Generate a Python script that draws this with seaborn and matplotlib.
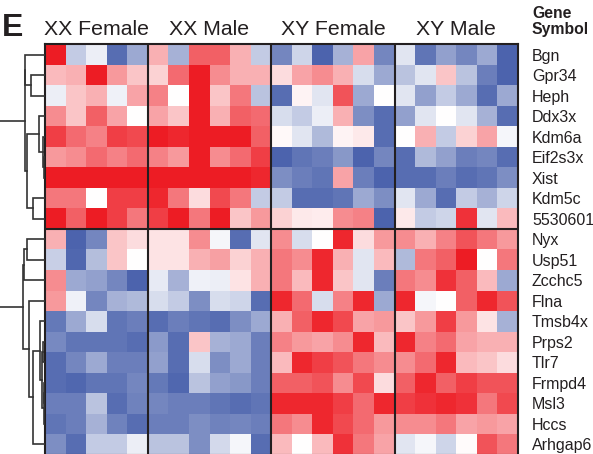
import matplotlib
matplotlib.use("Agg")
import matplotlib.pyplot as plt
from matplotlib.colors import LinearSegmentedColormap
import seaborn as sns
import numpy as np
import pandas as pd

genes = ["Bgn", "Gpr34", "Heph", "Ddx3x", "Kdm6a", "Eif2s3x", "Xist", "Kdm5c",
         "5530601", "Nyx", "Usp51", "Zcchc5", "Flna", "Tmsb4x", "Prps2", "Tlr7",
         "Frmpd4", "Msl3", "Hccs", "Arhgap6"]
groups = ["XX Female", "XX Male", "XY Female", "XY Male"]

xx_female = [
    [1.0, -0.3, -0.1, -0.85, -0.5],
    [0.3, 0.35, 1.0, 0.45, 0.25],
    [-0.1, 0.25, 0.35, -0.08, 0.4],
    [0.5, 0.25, 0.7, 0.4, 0.0],
    [0.85, 0.65, 0.55, 0.85, 0.8],
    [0.45, 0.5, 0.65, 0.55, 0.65],
    [1.0, 1.0, 1.0, 1.0, 1.0],
    [0.6, 0.6, 0.0, 0.85, 0.85],
    [1.0, 0.7, 1.0, 0.85, 0.6],
    [0.35, -0.9, -0.7, 0.25, 0.15],
    [-0.28, -0.88, -0.38, 0.25, 0.0],
    [0.5, -0.5, -0.55, -0.7, -0.9],
    [0.45, -0.08, -0.7, -0.45, -0.4],
    [-0.78, -0.5, -0.2, -0.8, -0.75],
    [-0.68, -0.8, -0.8, -0.8, -0.85],
    [-0.85, -0.7, -0.5, -0.75, -0.75],
    [-0.85, -0.88, -0.8, -0.8, -0.7],
    [-0.75, -0.75, -0.35, -0.85, -0.72],
    [-0.8, -0.75, -0.45, -0.72, -0.85],
    [-0.65, -0.85, -0.3, -0.3, -0.1],
]
xx_male = [
    [0.35, -0.45, 0.7, 0.7, 0.35, -0.3],
    [0.2, 0.65, 1.0, 0.5, 0.35, 0.35],
    [0.55, 0.0, 1.0, 0.25, 0.6, -0.35],
    [0.4, 0.25, 1.0, 0.35, 0.7, 0.65],
    [1.0, 0.95, 1.0, 1.0, 1.0, 0.7],
    [0.55, 0.45, 1.0, 0.5, 0.65, 0.85],
    [1.0, 1.0, 1.0, 1.0, 1.0, 0.95],
    [0.95, 0.6, 0.15, 0.8, 0.6, -0.3],
    [0.85, 1.0, 0.6, 1.0, 0.25, 0.45],
    [0.12, 0.12, 0.5, -0.05, -0.85, -0.15],
    [0.12, 0.12, 0.35, 0.42, 0.2, 0.35],
    [-0.12, -0.45, -0.08, -0.1, 0.12, 0.35],
    [-0.2, -0.3, -0.65, -0.2, -0.25, -0.85],
    [-0.85, -0.75, -0.8, -0.85, -0.65, -0.5],
    [-0.58, -0.85, 0.25, -0.45, -0.5, -0.75],
    [-0.55, -0.85, -0.2, -0.65, -0.5, -0.75],
    [-0.78, -0.88, -0.35, -0.55, -0.6, -0.75],
    [-0.7, -0.75, -0.75, -0.8, -0.85, -0.8],
    [-0.75, -0.75, -0.65, -0.72, -0.7, -0.75],
    [-0.35, -0.35, -0.65, -0.22, -0.05, -0.85],
]
xy_female = [
    [-0.7, -0.25, -0.9, -0.45, 0.4, -0.7],
    [0.15, 0.4, 0.5, 0.35, -0.2, -0.5],
    [-0.85, 0.05, -0.15, 0.75, -0.5, 0.0],
    [-0.2, -0.3, -0.1, 0.35, -0.65, -0.85],
    [0.03, -0.15, -0.4, 0.05, 0.1, -0.85],
    [-0.9, -0.8, -0.75, -0.6, -0.9, -0.7],
    [-0.65, -0.75, -0.8, 0.4, -0.75, -0.9],
    [-0.3, -0.85, -0.85, -0.8, -0.5, -0.65],
    [0.2, 0.1, 0.08, 0.5, 0.55, -0.9],
    [0.5, -0.2, 0.0, 0.95, 0.15, 0.45],
    [0.6, 0.5, 0.95, 0.35, -0.15, 0.3],
    [0.6, 0.3, 0.95, 0.25, -0.15, -0.75],
    [0.95, 0.65, -0.2, 0.55, 0.95, -0.5],
    [0.35, 0.7, 0.95, 0.8, 0.4, 0.45],
    [0.55, 0.45, 0.4, 0.5, 0.95, 0.3],
    [0.3, 0.95, 0.85, 0.75, 0.6, 0.5],
    [0.7, 0.7, 0.75, 0.5, 0.8, 0.15],
    [0.95, 0.95, 0.95, 0.85, 0.65, 0.95],
    [0.6, 0.5, 0.95, 0.8, 0.65, 0.45],
    [0.3, 0.0, 0.3, 0.9, 0.6, 0.4],
]
xy_male = [
    [-0.15, -0.8, -0.55, -0.7, -0.5, -0.9],
    [-0.35, -0.15, 0.25, -0.35, -0.75, -0.9],
    [-0.15, -0.55, -0.3, -0.5, -0.85, -0.5],
    [-0.55, -0.15, 0.0, -0.15, -0.45, -0.85],
    [0.0, 0.35, -0.3, 0.2, 0.4, -0.05],
    [-0.85, -0.4, -0.55, -0.75, -0.7, -0.85],
    [-0.85, -0.85, -0.75, -0.85, -0.8, -0.65],
    [-0.15, -0.5, -0.85, -0.3, -0.45, -0.25],
    [0.1, -0.3, -0.25, 0.9, -0.15, 0.3],
    [0.5, 0.35, 0.55, 0.75, 0.6, 0.45],
    [-0.4, 0.6, 0.7, 1.0, 0.0, 0.6],
    [0.6, 0.5, 0.9, 0.7, 0.3, -0.5],
    [0.95, -0.05, 0.0, 0.7, 0.95, 0.75],
    [0.25, 0.45, 0.85, 0.45, 0.12, -0.45],
    [0.95, 0.55, 0.65, 0.4, 0.35, 0.35],
    [0.5, 0.65, 0.95, 0.3, 0.25, 0.15],
    [0.7, 0.95, 0.7, 0.85, 0.75, 0.75],
    [0.85, 0.9, 0.95, 0.9, 0.6, 0.8],
    [0.5, 0.5, 0.6, 0.4, 0.45, 0.4],
    [-0.15, -0.05, -0.25, 0.02, 0.75, 0.6],
]

# row dendrogram: (left, right, height); ids >= 20 are earlier merges
merges = [
    (5, 6, 0.7), (4, 20, 2.2), (3, 21, 5.7), (7, 8, 11.7), (22, 23, 18.0),
    (1, 2, 14.0), (0, 25, 20.0), (26, 24, 20.5),
    (16, 17, 0.6), (28, 18, 1.3), (14, 15, 2.0), (30, 29, 3.2), (13, 31, 4.8),
    (32, 19, 11.7), (12, 33, 15.7), (9, 10, 18.3), (35, 11, 21.0), (36, 34, 22.3),
]
roots = [27, 37]

blocks = [xx_female, xx_male, xy_female, xy_male]
cols = []
for g, b in zip(groups, blocks):
    cols += [f"{g} {i + 1}" for i in range(len(b[0]))]
df = pd.DataFrame(np.hstack([np.array(b) for b in blocks]), index=genes, columns=cols)

plt.rcParams["font.family"] = ["Liberation Sans", "DejaVu Sans"]
ink = "#231f20"
cmap = LinearSegmentedColormap.from_list("bwr2", ["#3953a4", "#ffffff", "#ed1c24"])

W, H = 593, 454
fig = plt.figure(figsize=(W / 100, H / 100), dpi=100)


def px_axes(x0, y0, x1, y1):
    return fig.add_axes([x0 / W, 1 - y1 / H, (x1 - x0) / W, (y1 - y0) / H])


ax = px_axes(45, 44.5, 518, 454.5)
sns.heatmap(df, ax=ax, cmap=cmap, vmin=-1, vmax=1, cbar=False,
            xticklabels=False, yticklabels=False)

# group separators and frame
edges = np.cumsum([len(b[0]) for b in blocks])
for e in edges[:-1]:
    ax.axvline(e, color=ink, lw=1.5)
ax.axhline(9, color=ink, lw=1.5)
for s in ax.spines.values():
    s.set_visible(True)
    s.set_color(ink)
    s.set_linewidth(1.5)

start = 0
for g, b in zip(groups, blocks):
    n = len(b[0])
    ax.text(start + n / 2, -0.46, g, ha="center", va="baseline", fontsize=15.3, color=ink)
    start += n

ax.yaxis.tick_right()
ax.set_yticks(np.arange(len(genes)) + 0.5)
ax.set_yticklabels(genes, fontsize=11.5, color=ink, rotation=0)
ax.tick_params(axis="y", length=0, pad=10)
ax.set_xlabel("")
ax.set_ylabel("")

fig.text(532 / W, 1 - 6 / H, "Gene\nSymbol", fontsize=11.3, fontweight="bold",
         color=ink, va="top", ha="left", linespacing=1.05)
fig.text(2 / W, 1 - 36 / H, "E", fontsize=23, fontweight="bold", color=ink,
         va="baseline", ha="left")

# dendrogram
dax = px_axes(0, 44.5, 45, 454.5)
dax.set_xlim(45, 0)
dax.set_ylim(len(genes), 0)
dax.axis("off")
pos = {i: (0.0, i + 0.5) for i in range(len(genes))}
for k, (a, b, h) in enumerate(merges):
    xa, ya = pos[a]
    xb, yb = pos[b]
    dax.plot([xa, h, h, xb], [ya, ya, yb, yb], color="#333333", lw=1.2,
             solid_joinstyle="miter")
    pos[len(genes) + k] = (h, (ya + yb) / 2)
for r in roots:
    h, y = pos[r]
    dax.plot([h, 45], [y, y], color="#333333", lw=1.2)

fig.savefig("out.png", dpi=100)
